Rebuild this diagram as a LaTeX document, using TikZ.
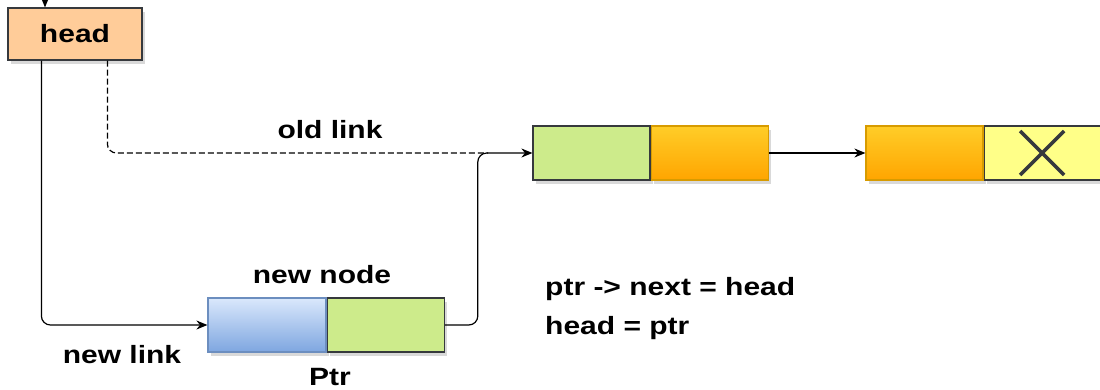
\documentclass[tikz,border=0pt]{standalone}
\usepackage{fontspec}
\newfontfamily\lblfont[FakeStretch=1.2]{Liberation Sans}
\usetikzlibrary{arrows.meta,shadows,calc}
\definecolor{hd}{HTML}{FFCC99}
\definecolor{bd}{HTML}{36393D}
\definecolor{grn}{HTML}{CDEB8B}
\definecolor{bltop}{HTML}{DAE8FC}
\definecolor{blbot}{HTML}{7EA6E0}
\definecolor{blbd}{HTML}{6C8EBF}
\definecolor{ortop}{HTML}{FFCD28}
\definecolor{orbot}{HTML}{FFA500}
\definecolor{orbd}{HTML}{D79B00}
\definecolor{yel}{HTML}{FFFF88}
\tikzset{
  x=1pt,y=-1pt,
  shd/.style={drop shadow={opacity=0.3,shadow xshift=3pt,shadow yshift=-4pt}},
  cell/.style={draw=bd,line width=1.2pt,minimum width=117pt,minimum height=54pt,inner sep=0pt,shd},
  lbl/.style={font=\lblfont\bfseries\fontsize{25}{28}\selectfont,text=black,inner sep=0pt},
  arr/.style={-{Stealth[length=11pt,width=9pt]},line width=1.2pt,rounded corners=9pt},
}
\begin{document}
\begin{tikzpicture}
\useasboundingbox (0,0) rectangle (1100,390);
% boxes
\node[cell,fill=hd,minimum width=134pt,minimum height=52pt] (head) at (75,34) {};
\node[lbl] (headtxt) at (head.center) {head};
\node[cell,draw=blbd,top color=bltop,bottom color=blbot,minimum width=118pt] (nn1) at (267,325) {};
\node[cell,fill=grn,anchor=west] (nn2) at (nn1.east) {};
\node[cell,fill=grn] (n1a) at (591.5,153) {};
\node[cell,draw=orbd,top color=ortop,bottom color=orbot,anchor=west] (n1b) at (n1a.east) {};
\node[cell,draw=orbd,top color=ortop,bottom color=orbot] (n2a) at (924.5,153) {};
\node[cell,fill=yel,anchor=west,minimum width=116pt] (n2b) at (n2a.east) {};
% cross
\draw[line width=3.5pt,color=bd] ($(n2b.center)+(-22,-22)$) -- ($(n2b.center)+(22,22)$)
  ($(n2b.center)+(-22,22)$) -- ($(n2b.center)+(22,-22)$);
% top stub
\coordinate (top) at (45,0);
\draw[arr] (top) -- (head.north -| top);
% connectors
\draw[arr] ($(head.south west)+(34,0)$) |- (nn1.west);
\coordinate (jn) at (488,153);
\draw[line width=1.2pt,dash pattern=on 6pt off 3pt,rounded corners=9pt] ($(head.south west)+(100,0)$) |- (jn);
\draw[arr] (nn2.east) -- ++(33,0) |- (n1a.west);
\draw[arr] (n1b.east) -- (n2a.west);
% labels
\node[lbl] (old) at (330,130) {old link};
\node[lbl] (newnode) at (322,275) {new node};
\node[lbl] (newlink) at (122,355) {new link};
\node[lbl] (ptr) at (330,377) {Ptr};
\node[lbl,anchor=west] (eq1) at (545,289) {ptr -> next = head};
\node[lbl,anchor=west] (eq2) at (545,328) {head = ptr};
\end{tikzpicture}
\end{document}
